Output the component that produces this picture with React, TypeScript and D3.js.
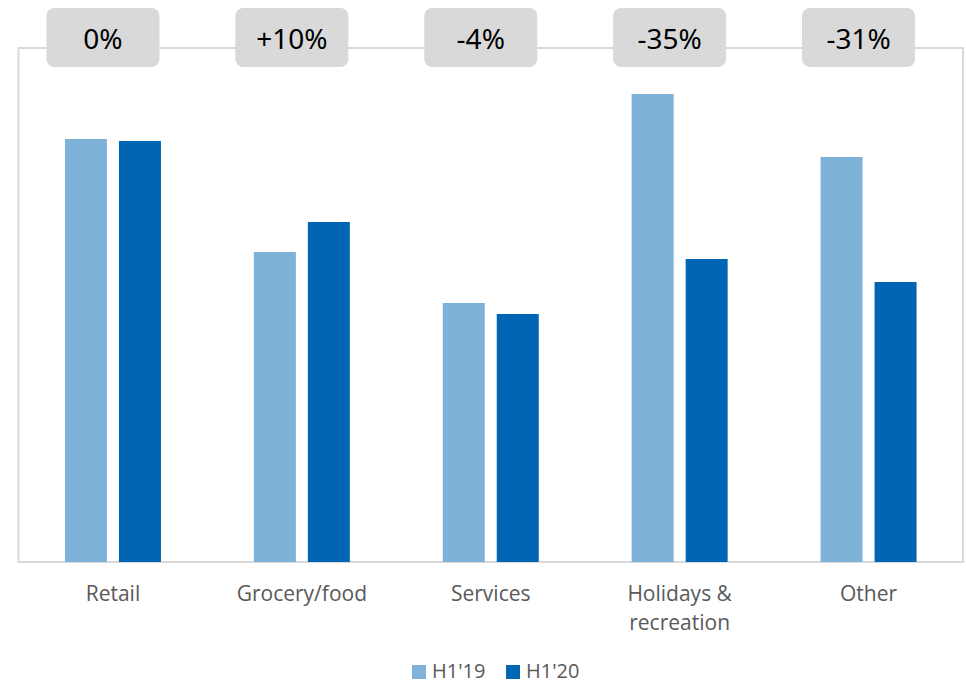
import React from "react";
import * as d3 from "d3";

const categories = ["Retail", "Grocery/food", "Services", "Holidays & recreation", "Other"];
const categoryLines = [["Retail"], ["Grocery/food"], ["Services"], ["Holidays &", "recreation"], ["Other"]];
const seriesNames = ["H1'19", "H1'20"];
const h119 = [423, 310, 259, 468, 405];
const h120 = [421, 340, 248, 303, 280];
const changeLabels = ["0%", "+10%", "-4%", "-35%", "-31%"];
const colors = ["#7FB2D8", "#0066B3"];

const W = 966, H = 683;
const M = { left: 18.5, right: 3, top: 48, bottom: 121 };

export default function App() {
  const x0 = d3.scaleBand<string>().domain(categories).range([M.left, W - M.right]).paddingInner(0).paddingOuter(0);
  const y = d3.scaleLinear().domain([0, 514]).range([H - M.bottom, M.top]);
  const barW = 42, gap = 12;
  const series = [h119, h120];
  const bottom = y(0);
  return (
    <div style={{ position: "fixed", left: 0, top: 0 }}>
      <svg width={W} height={H} style={{ display: "block", background: "#fff" }}>
        <rect x={M.left} y={M.top} width={W - M.right - M.left} height={bottom - M.top} fill="none" stroke="#D9D9D9" strokeWidth={2} />
        {categories.map((c, i) => {
          const cx = x0(c)! + x0.bandwidth() / 2;
          return (
            <g key={c}>
              {series.map((s, j) => {
                const bx = j === 0 ? cx - gap / 2 - barW : cx + gap / 2;
                return <rect key={j} x={bx} y={y(s[i])} width={barW} height={bottom - y(s[i])} fill={colors[j]} />;
              })}
              {categoryLines[i].map((ln, k) => (
                <text key={k} x={cx} y={601 + k * 29} textAnchor="middle" fontFamily="'Open Sans', sans-serif" fontSize={21} fill="#595959">{ln}</text>
              ))}
              <rect x={cx - 10 - 56.5} y={8} width={113} height={59} rx={8} ry={8} fill="#D9D9D9" />
              <text x={cx - 10} y={38} dominantBaseline="central" textAnchor="middle" fontFamily="'Noto Sans', sans-serif" fontSize={28} fill="#000">{changeLabels[i]}</text>
            </g>
          );
        })}
        {seriesNames.map((n, j) => {
          const lx = j === 0 ? 412 : 506;
          return (
            <g key={n}>
              <rect x={lx} y={665} width={14} height={14} fill={colors[j]} />
              <text x={lx + 20} y={678} fontFamily="'Open Sans', sans-serif" fontSize={20} fill="#595959">{n}</text>
            </g>
          );
        })}
      </svg>
    </div>
  );
}
